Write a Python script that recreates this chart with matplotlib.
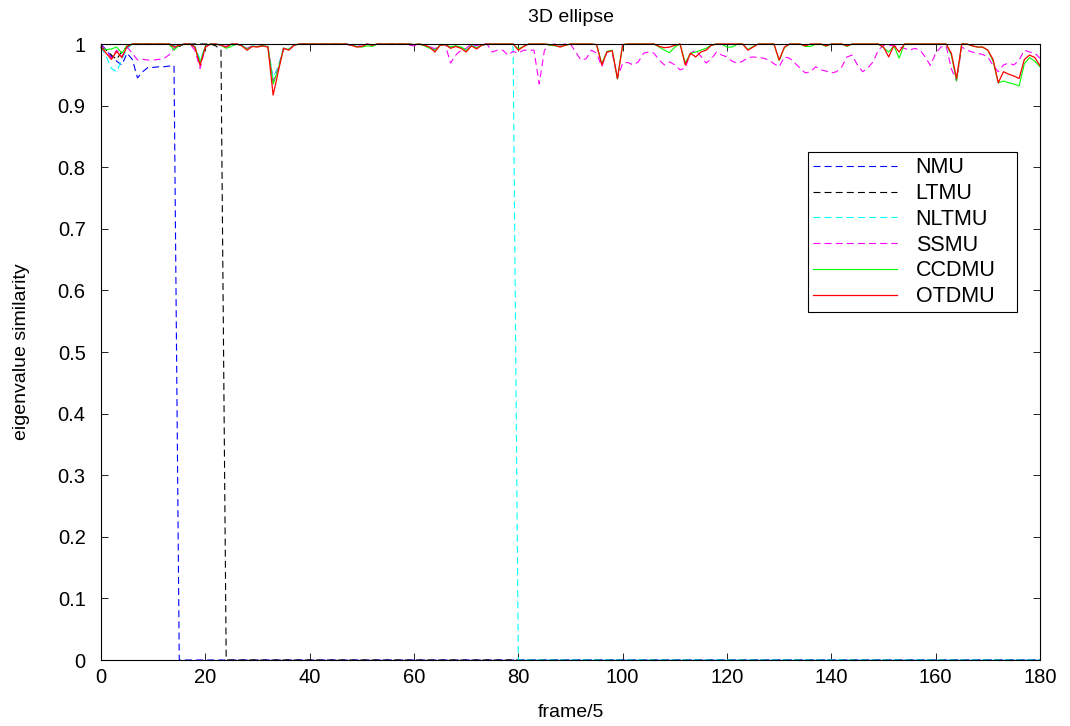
import numpy as np
import matplotlib
matplotlib.use("Agg")
import matplotlib.pyplot as plt

plt.rcParams['font.family'] = ['Liberation Sans', 'DejaVu Sans']
plt.rcParams['lines.scale_dashes'] = False

# frame/5 axis
frames = list(range(0, 181))

# NMU collapses to 0 after frame 14
nmu = [1.0, 0.990, 0.980, 0.972, 0.966, 0.985, 0.975, 0.945, 0.955, 0.962,
       0.962, 0.963, 0.963, 0.964, 0.965] + [0.0] * 166

# LTMU collapses to 0 after frame 23
ltmu = [0.995, 0.990, 0.982, 0.975, 0.988, 0.995, 1.0, 1.0, 1.0, 1.0,
        1.0, 1.0, 1.0, 1.0, 0.998, 0.996, 1.0, 1.0, 1.0, 1.0,
        1.0, 1.0, 0.997, 0.990] + [0.0] * 157

# NLTMU collapses to 0 after frame 79
nltmu = [0.995, 0.980, 0.960, 0.955, 0.975, 0.992, 1.0, 1.0, 1.0, 1.0,
         1.0, 1.0, 1.0, 1.0, 0.996, 0.998, 1.0, 1.0, 0.996, 0.975,
         0.996, 1.0, 1.0, 0.998, 0.995, 1.0, 1.0, 0.998, 0.993, 0.997,
         0.996, 0.997, 0.996, 0.945, 0.965, 0.994, 0.992, 0.998, 1.0, 1.0,
         1.0, 1.0, 1.0, 1.0, 1.0, 1.0, 1.0, 1.0, 0.998, 0.996,
         0.997, 1.0, 0.998, 1.0, 1.0, 1.0, 1.0, 1.0, 1.0, 1.0,
         0.999, 1.0, 0.998, 0.996, 0.991, 0.998, 0.999, 0.995, 0.997, 0.995,
         0.991, 0.998, 0.995, 0.998, 1.0, 1.0, 1.0, 1.0, 1.0, 0.995] + [0.0] * 101

ssmu = [0.998, 0.990, 0.977, 0.990, 0.980, 0.995, 0.985, 0.974, 0.975, 0.974,
        0.974, 0.975, 0.976, 0.982, 0.993, 0.998, 1.0, 1.0, 0.990, 0.960,
        0.995, 1.0, 1.0, 0.998, 0.996, 1.0, 1.0, 0.998, 0.993, 0.997,
        0.996, 0.997, 0.996, 0.940, 0.962, 0.993, 0.990, 0.998, 1.0, 1.0,
        1.0, 1.0, 1.0, 1.0, 1.0, 1.0, 1.0, 1.0, 0.997, 0.996,
        0.997, 1.0, 0.998, 1.0, 1.0, 1.0, 1.0, 1.0, 1.0, 0.998,
        0.997, 1.0, 0.998, 0.996, 0.992, 0.998, 0.999, 0.969, 0.982, 0.990,
        0.993, 1.0, 0.997, 1.0, 1.0, 0.987, 0.990, 0.990, 0.982, 0.988,
        0.985, 0.990, 0.990, 0.990, 0.935, 0.990, 0.998, 1.0, 0.998, 1.0,
        1.0, 0.987, 0.974, 0.976, 0.990, 0.985, 0.963, 0.988, 0.985, 0.944,
        0.969, 0.970, 0.966, 0.971, 0.985, 0.987, 0.985, 0.974, 0.966, 0.971,
        0.966, 0.958, 0.961, 0.985, 0.990, 0.980, 0.969, 0.976, 0.987, 0.982,
        0.979, 0.972, 0.969, 0.972, 0.978, 0.979, 0.978, 0.977, 0.974, 0.968,
        0.963, 0.979, 0.977, 0.969, 0.961, 0.953, 0.955, 0.963, 0.958, 0.956,
        0.953, 0.955, 0.963, 0.979, 0.982, 0.966, 0.955, 0.961, 0.971, 0.990,
        0.998, 0.998, 0.997, 0.995, 0.993, 0.990, 0.993, 0.990, 0.979, 0.965,
        0.985, 0.995, 0.997, 0.960, 0.940, 0.995, 0.990, 0.987, 0.985, 0.983,
        0.979, 0.965, 0.955, 0.966, 0.969, 0.966, 0.974, 0.990, 0.987, 0.985,
        0.977]

ccdmu = [0.993, 0.991, 0.992, 0.995, 0.985, 0.998, 1.0, 1.0, 1.0, 1.0,
         1.0, 1.0, 1.0, 1.0, 0.990, 0.998, 1.0, 1.0, 0.995, 0.970,
         0.996, 1.0, 1.0, 0.998, 0.993, 0.996, 1.0, 0.997, 0.992, 0.996,
         0.996, 0.997, 0.996, 0.935, 0.960, 0.993, 0.991, 0.998, 1.0, 1.0,
         1.0, 1.0, 1.0, 1.0, 1.0, 1.0, 1.0, 1.0, 0.998, 0.996,
         0.995, 0.997, 0.996, 1.0, 1.0, 1.0, 1.0, 1.0, 1.0, 1.0,
         0.999, 1.0, 0.997, 0.993, 0.990, 0.998, 0.999, 0.995, 0.997, 0.995,
         0.990, 0.997, 0.994, 0.998, 1.0, 1.0, 1.0, 1.0, 1.0, 1.0,
         0.992, 0.996, 1.0, 1.0, 1.0, 1.0, 0.998, 0.997, 0.996, 0.998,
         1.0, 1.0, 1.0, 1.0, 1.0, 0.999, 0.968, 0.988, 0.990, 0.943,
         0.999, 1.0, 1.0, 1.0, 1.0, 1.0, 1.0, 0.995, 0.990, 0.986,
         0.995, 1.0, 0.969, 0.985, 0.987, 0.990, 0.993, 0.998, 1.0, 1.0,
         0.995, 0.995, 1.0, 1.0, 0.991, 0.996, 1.0, 1.0, 1.0, 1.0,
         0.973, 0.994, 1.0, 1.0, 1.0, 0.996, 0.996, 1.0, 1.0, 0.996,
         1.0, 1.0, 1.0, 0.996, 1.0, 1.0, 1.0, 1.0, 1.0, 1.0,
         0.994, 0.987, 0.997, 0.977, 1.0, 1.0, 1.0, 1.0, 1.0, 1.0,
         1.0, 1.0, 1.0, 0.982, 0.940, 1.0, 1.0, 0.997, 0.995, 0.995,
         0.990, 0.972, 0.937, 0.940, 0.937, 0.935, 0.932, 0.968, 0.978, 0.972,
         0.963]

otdmu = [0.995, 0.985, 0.975, 0.988, 0.978, 0.996, 1.0, 1.0, 1.0, 1.0,
         1.0, 1.0, 1.0, 1.0, 0.995, 0.998, 1.0, 1.0, 0.995, 0.965,
         0.995, 1.0, 1.0, 0.998, 0.995, 1.0, 1.0, 0.997, 0.990, 0.996,
         0.995, 0.997, 0.995, 0.917, 0.956, 0.993, 0.990, 0.998, 1.0, 1.0,
         1.0, 1.0, 1.0, 1.0, 1.0, 1.0, 1.0, 1.0, 0.998, 0.995,
         0.996, 1.0, 0.998, 1.0, 1.0, 1.0, 1.0, 1.0, 1.0, 1.0,
         0.999, 1.0, 0.998, 0.995, 0.987, 0.998, 0.999, 0.993, 0.996, 0.993,
         0.987, 0.997, 0.992, 0.998, 1.0, 1.0, 1.0, 1.0, 1.0, 1.0,
         0.990, 0.996, 1.0, 1.0, 1.0, 1.0, 0.999, 0.998, 0.995, 0.998,
         1.0, 1.0, 1.0, 1.0, 1.0, 0.999, 0.966, 0.987, 0.989, 0.944,
         0.999, 1.0, 1.0, 1.0, 1.0, 1.0, 1.0, 0.996, 0.994, 0.995,
         0.998, 1.0, 0.966, 0.985, 0.979, 0.987, 0.990, 0.998, 1.0, 1.0,
         1.0, 1.0, 1.0, 1.0, 0.990, 0.995, 1.0, 1.0, 1.0, 1.0,
         0.974, 0.995, 1.0, 1.0, 1.0, 0.997, 1.0, 1.0, 1.0, 0.997,
         1.0, 1.0, 1.0, 0.997, 1.0, 1.0, 1.0, 1.0, 1.0, 1.0,
         0.995, 0.979, 0.998, 0.987, 1.0, 1.0, 1.0, 1.0, 1.0, 1.0,
         1.0, 1.0, 1.0, 0.985, 0.944, 1.0, 1.0, 0.997, 0.995, 0.995,
         0.990, 0.975, 0.937, 0.955, 0.951, 0.948, 0.944, 0.975, 0.982, 0.978,
         0.965]

y_ticks = [0, 0.1, 0.2, 0.3, 0.4, 0.5, 0.6, 0.7, 0.8, 0.9, 1]
y_tick_labels = ['0', '0.1', '0.2', '0.3', '0.4', '0.5', '0.6', '0.7', '0.8', '0.9', '1']
x_ticks = [0, 20, 40, 60, 80, 100, 120, 140, 160, 180]

fig = plt.figure(figsize=(10.70, 7.26), dpi=100)
ax = fig.add_axes([101 / 1070, 66 / 726, 939 / 1070, 616 / 726])

dash = (0, (5, 3))
ax.plot(frames, nmu, color=(0, 0, 1), linestyle=dash, lw=0.8, label='NMU', clip_on=False)
ax.plot(frames, ltmu, color='black', linestyle=dash, lw=0.8, label='LTMU', clip_on=False)
ax.plot(frames, nltmu, color=(0, 1, 1), linestyle=dash, lw=0.8, label='NLTMU', clip_on=False)
ax.plot(frames, ssmu, color=(1, 0, 1), linestyle=dash, lw=0.8, label='SSMU', clip_on=False)
ax.plot(frames, ccdmu, color=(0, 1, 0), lw=0.8, label='CCDMU', clip_on=False)
ax.plot(frames, otdmu, color=(1, 0, 0), lw=0.9, label='OTDMU', clip_on=False)

ax.set_xlim(0, 180)
ax.set_ylim(0, 1)
ax.set_xticks(x_ticks)
ax.set_yticks(y_ticks)
ax.set_yticklabels(y_tick_labels)
ax.tick_params(direction='in', length=5, width=0.6, top=True, right=True,
               labelsize=14.5)
ax.tick_params(axis='x', pad=6)
ax.tick_params(axis='y', pad=11)
for s in ax.spines.values():
    s.set_linewidth(0.8)

ax.set_title('3D ellipse', fontsize=14, pad=16)
ax.set_xlabel('frame/5', fontsize=14, labelpad=12)
ax.set_ylabel('eigenvalue similarity', fontsize=14, labelpad=20)

# legend box spans px 808..1017 horizontally, top at 152
leg_x0 = (808 - 101) / 939
leg_w = (1017 - 808) / 939
leg_top = (660 - 152) / 616
leg = ax.legend(loc='upper left', bbox_to_anchor=(leg_x0, leg_top - 0.3, leg_w, 0.3),
                mode='expand', borderaxespad=0, fontsize=15.5, frameon=True,
                fancybox=False, framealpha=1, edgecolor='black', handlelength=3.9,
                handletextpad=0.85, labelspacing=0.22, borderpad=0.25)
leg.get_frame().set_linewidth(0.8)

fig.savefig('out.png', dpi=100)
